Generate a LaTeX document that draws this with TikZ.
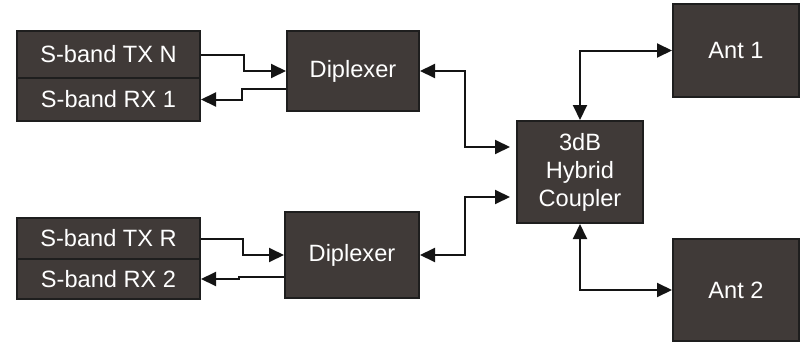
\documentclass[tikz,border=0pt]{standalone}
\usepackage{fontspec}
\setmainfont{Liberation Sans}
\usetikzlibrary{arrows.meta}
\definecolor{boxfill}{RGB}{64,58,56}
\definecolor{boxline}{RGB}{30,30,30}
\definecolor{linecol}{RGB}{20,20,20}
\tikzset{
  blk/.style={draw=boxline, line width=2pt, fill=boxfill, text=white, inner sep=0pt,
    font=\fontsize{23.6}{28}\selectfont, align=center},
  arr/.style={draw=linecol, line width=2pt, -{Triangle[length=15pt,width=14pt]}},
  barr/.style={draw=linecol, line width=2pt, {Triangle[length=15pt,width=14pt]}-{Triangle[length=15pt,width=14pt]}}
}
\begin{document}
\begin{tikzpicture}[x=1pt,y=-1pt]
\useasboundingbox (0,0) rectangle (807,343);
\node[blk, minimum width=183pt, minimum height=47pt] (txn) at (108.5,54.5) {S-band TX N};
\node[blk, minimum width=183pt, minimum height=43pt] (rx1) at (108.5,99.5) {S-band RX 1};
\node[blk, minimum width=132pt, minimum height=80pt] (dip1) at (353,71) {Diplexer};
\node[blk, minimum width=183pt, minimum height=41pt] (txr) at (108.5,238.5) {S-band TX R};
\node[blk, minimum width=183pt, minimum height=40pt] (rx2) at (108.5,279) {S-band RX 2};
\node[blk, minimum width=134pt, minimum height=86pt] (dip2) at (352,255) {Diplexer};
\node[blk, minimum width=126pt, minimum height=102pt] (coup) at (580,172) {3dB\\Hybrid\\Coupler};
\node[blk, minimum width=126pt, minimum height=93pt] (ant1) at (736,50.5) {Ant 1};
\node[blk, minimum width=126pt, minimum height=102pt] (ant2) at (736,290) {Ant 2};

\draw[arr] (txn.east) -- ++(43,0) |- (dip1.west);
\draw[arr] ([yshift=-18pt]dip1.west) -- ++(-44,0) |- (rx1.east);
\draw[arr] (txr.east) -- ++(42,0) |- (dip2.west);
\draw[arr] ([yshift=-22pt]dip2.west) -- ++(-45,0) |- (rx2.east);
\draw[barr, shorten >=6pt] (dip1.east) -- ++(45,0) |- ([yshift=25pt]coup.west);
\draw[barr, shorten >=6pt] (dip2.east) -- ++(45,0) |- ([yshift=-25pt]coup.west);
\draw[barr] (coup.north) |- (ant1.west);
\draw[barr] (coup.south) |- (ant2.west);
\end{tikzpicture}
\end{document}
